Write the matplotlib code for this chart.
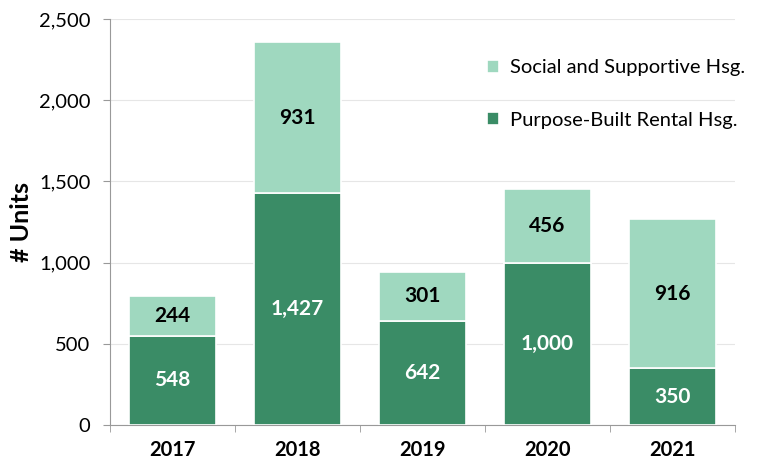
import matplotlib
matplotlib.use("Agg")
import matplotlib.pyplot as plt
import numpy as np

years = ["2017", "2018", "2019", "2020", "2021"]
purpose_built = [548, 1427, 642, 1000, 350]
social = [244, 931, 301, 456, 916]

plt.rcParams['font.family'] = ['Lato', 'DejaVu Sans']
dark = "#3a8c66"
light = "#9fd8bf"

fig = plt.figure(figsize=(7.61, 4.62), dpi=100)
ax = fig.add_axes([0.1445, 0.0801, 0.8213, 0.8788])
x = np.arange(len(years))
b1 = ax.bar(x, purpose_built, width=0.7, color=dark, edgecolor="white", linewidth=1.2,
            label="Purpose-Built Rental Hsg.", zorder=3)
b2 = ax.bar(x, social, width=0.7, bottom=purpose_built, color=light, edgecolor="white",
            linewidth=1.2, label="Social and Supportive Hsg.", zorder=3)
for i in range(len(years)):
    ax.text(x[i], purpose_built[i] / 2, f"{purpose_built[i]:,}", ha="center", va="center",
            color="white", fontsize=15, fontweight="bold", zorder=4)
    ax.text(x[i], purpose_built[i] + social[i] / 2, f"{social[i]:,}", ha="center", va="center",
            color="black", fontsize=15, fontweight="bold", zorder=4)

ax.set_xlim(-0.5, len(years) - 0.5)
ax.set_ylim(0, 2500)
ax.set_yticks(range(0, 2501, 500))
ax.set_yticklabels([f"{v:,}" for v in range(0, 2501, 500)], fontsize=14.5)
ax.yaxis.grid(True, color="#e6e6e6", linewidth=0.8, zorder=0)
ax.set_xticks(x)
ax.set_xticklabels(years, fontsize=14.5, fontweight="bold")
ax.tick_params(axis="x", length=0, pad=11)
ax.set_xticks(np.arange(-0.5, len(years), 1), minor=True)
ax.tick_params(axis="x", which="minor", length=5, color="#999999")
ax.tick_params(axis="y", length=5, color="#999999", pad=9)
for s in ["top", "right"]:
    ax.spines[s].set_visible(False)
ax.spines["left"].set_color("#999999")
ax.spines["bottom"].set_color("#999999")
ax.set_ylabel("# Units", fontsize=18, fontweight="bold", labelpad=4)

handles = [b2, b1]
leg = ax.legend(handles, [h.get_label() for h in handles], loc="upper right",
                bbox_to_anchor=(1.045, 0.945), frameon=False, fontsize=14.5,
                handlelength=0.6, handleheight=0.6, labelspacing=1.75, handletextpad=0.55)
fig.savefig("out.png", dpi=100)
